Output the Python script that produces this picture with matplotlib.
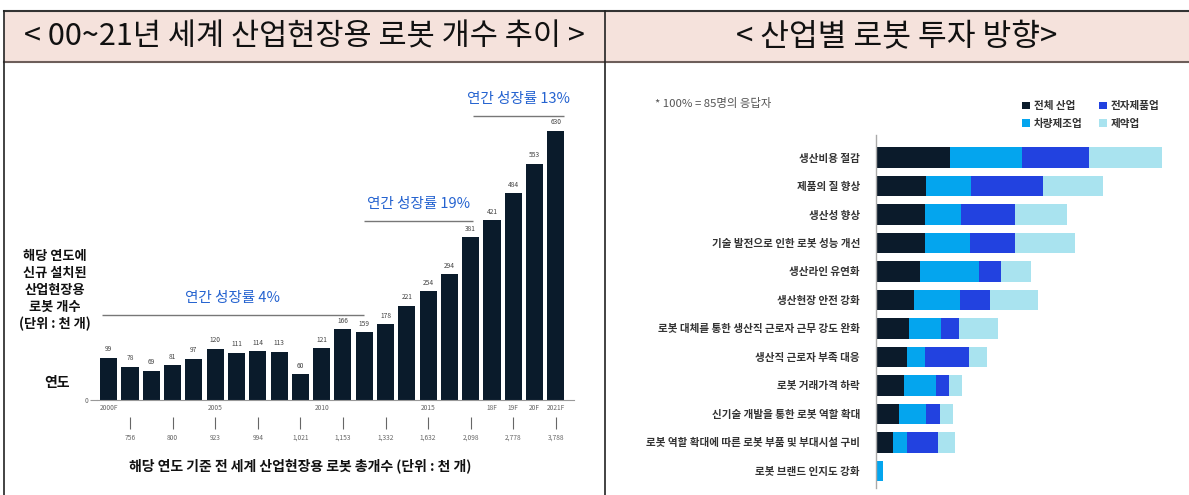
import matplotlib
matplotlib.use("Agg")
import matplotlib.pyplot as plt

plt.rcParams['font.family'] = ['Noto Sans CJK KR', 'DejaVu Sans']

W, H = 1189, 495

# ---- left chart data ----
years = ['2000F', '', '', '', '', '2005', '', '', '', '', '2010', '', '', '', '', '2015',
         '', '', '18F', '19F', '20F', '2021F']
new_robots = [99, 78, 69, 81, 97, 120, 111, 114, 113, 60, 121, 166, 159, 178, 221, 254,
              294, 381, 421, 484, 553, 630]
total_idx = [1, 3, 5, 7, 9, 11, 13, 15, 17, 19, 21]
total_labels = ['756', '800', '923', '994', '1,021', '1,153', '1,332', '1,632', '2,098',
                '2,778', '3,788']
growth_rates = ['연간 성장률 4%', '연간 성장률 19%', '연간 성장률 13%']
growth_spans = [(-0.33, 12), (12, 17.1), (17.1, 21.4)]
growth_levels = [199, 419, 665]

# ---- right chart data ----
reasons = ['생산비용 절감', '제품의 질 향상', '생산성 향상', '기술 발전으로 인한 로봇 성능 개선',
           '생산라인 유연화', '생산현장 안전 강화', '로봇 대체를 통한 생산직 근로자 근무 강도 완화',
           '생산직 근로자 부족 대응', '로봇 거래가격 하락', '신기술 개발을 통한 로봇 역할 확대',
           '로봇 역할 확대에 따른 로봇 부품 및 부대시설 구비', '로봇 브랜드 인지도 강화']
industries = ['전체 산업', '차량제조업', '전자제품업', '제약업']
all_ind = [74, 50, 49, 49, 44, 38, 33, 31, 28, 23, 17, 1]
vehicle = [72, 45, 36, 45, 59, 46, 32, 18, 32, 27, 14, 6]
electronics = [67, 72, 54, 45, 22, 30, 18, 44, 13, 14, 31, 0]
pharma = [73, 60, 52, 60, 30, 48, 39, 18, 13, 13, 17, 0]
ind_colors = ['#0b1b2b', '#04a5ee', '#2242e0', '#a9e3ef']


def px_axes(fig, x0, y0, x1, y1, **kw):
    return fig.add_axes([x0 / W, 1 - y1 / H, (x1 - x0) / W, (y1 - y0) / H], **kw)


fig = plt.figure(figsize=(W / 100, H / 100), dpi=100)

# table frame
bg = px_axes(fig, 0, 0, W, H, zorder=0)
bg.set_xlim(0, W)
bg.set_ylim(H, 0)
bg.axis('off')
bg.add_patch(plt.Rectangle((4, 11), W - 4, 51, facecolor='#f5e2dc', edgecolor='none'))
bg.plot([4, W], [11, 11], color='#333333', lw=1.5)
bg.plot([4, W], [62, 62], color='#6d5e5a', lw=1.5)
bg.plot([4, 4], [11, H], color='#222222', lw=1.2)
bg.plot([605, 605], [11, H], color='#222222', lw=1.2)
bg.text(304, 37, '< 00~21년 세계 산업현장용 로봇 개수 추이 >', ha='center', va='center',
        fontsize=22, color='#111111')
bg.text(897, 37, '< 산업별 로봇 투자 방향>', ha='center', va='center',
        fontsize=22.5, color='#111111')

bg.text(55, 290, '해당 연도에\n신규 설치된\n산업현장용\n로봇 개수\n(단위 : 천 개)',
        ha='center', va='center', fontsize=9.5, fontweight='bold', linespacing=1.25,
        color='#111111')
bg.text(57, 383, '연도', ha='center', va='center', fontsize=10, fontweight='bold',
        color='#111111')
bg.text(300, 466, '해당 연도 기준 전 세계 산업현장용 로봇 총개수 (단위 : 천 개)',
        ha='center', va='center', fontsize=10, fontweight='bold', color='#111111')
bg.text(655, 103, '* 100% = 85명의 응답자', ha='left', va='center', fontsize=8.2,
        color='#555555')

# left bar chart
ax = px_axes(fig, 97, 100, 574, 400)
x = list(range(len(new_robots)))
ax.bar(x, new_robots, width=0.8, color='#0a1b2b')
for i, v in zip(x, new_robots):
    ax.text(i, v + 10, str(v), ha='center', va='bottom', fontsize=4.8, color='#444444')
ax.set_xlim(-0.55, 21.85)
ax.set_ylim(0, 702)
ax.set_xticks(x)
ax.set_xticklabels(years)
ax.tick_params(axis='x', length=0, labelsize=4.8, labelcolor='#666666', pad=3)
ax.set_yticks([0])
ax.set_yticklabels(['0'])
ax.tick_params(axis='y', length=5, color='#999999', labelsize=4.8, labelcolor='#666666', pad=1)
for s in ['top', 'right', 'left']:
    ax.spines[s].set_visible(False)
ax.spines['bottom'].set_color('#999999')
ax.spines['bottom'].set_linewidth(0.8)
xt = ax.get_xaxis_transform()
ax.vlines(total_idx, -0.057, -0.097, transform=xt, color='#666666', lw=0.8, clip_on=False)
for i, lab in zip(total_idx, total_labels):
    ax.text(i, -0.127, lab, transform=xt, ha='center', va='center', fontsize=4.8,
            color='#666666', clip_on=False)
for lab, (a, b), lev in zip(growth_rates, growth_spans, growth_levels):
    ax.hlines(lev, a, b, color='#777777', lw=1)
    ax.text((a + b) / 2, lev + 40, lab, ha='center', va='center', fontsize=10.5,
            color='#2563d0', clip_on=False)

# right stacked bar chart
ax2 = px_axes(fig, 876, 135, W, 488)
y = list(range(len(reasons)))
left = [0] * len(reasons)
for name, vals, col in zip(industries, [all_ind, vehicle, electronics, pharma], ind_colors):
    ax2.barh(y, vals, left=left, height=0.72, color=col, label=name)
    left = [l + v for l, v in zip(left, vals)]
ax2.set_xlim(0, 313)
ax2.set_ylim(11.6, -0.79)
ax2.set_yticks(y)
ax2.set_yticklabels(reasons, fontweight='bold')
ax2.tick_params(axis='y', length=0, labelsize=7.6, labelcolor='#333333', pad=11.5)
ax2.set_xticks([])
for s in ['top', 'right', 'bottom']:
    ax2.spines[s].set_visible(False)
ax2.spines['left'].set_color('#aaaaaa')
ax2.spines['left'].set_linewidth(1)
leg = ax2.legend(loc='upper left', bbox_to_anchor=(1018 / W, 1 - 97 / H),
                 bbox_transform=fig.transFigure, ncol=2, frameon=False, fontsize=7.6,
                 handlelength=0.7, handleheight=0.7, handletextpad=0.4, columnspacing=1.6,
                 labelspacing=0.7, borderaxespad=0)
for t in leg.get_texts():
    t.set_fontweight('bold')
    t.set_color('#333333')

fig.savefig('out.png', dpi=100)
